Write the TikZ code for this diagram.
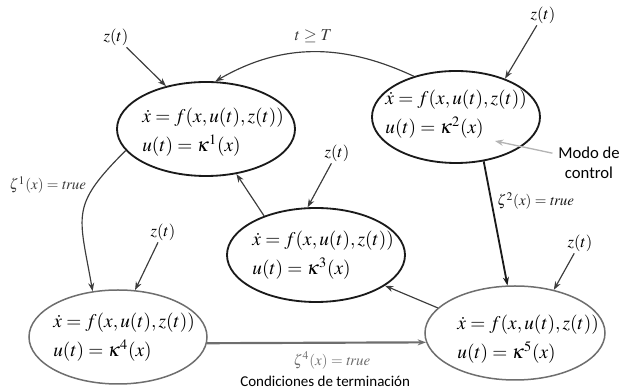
\documentclass[tikz,border=0pt]{standalone}
\usepackage{mathptmx}
\usepackage{fontspec}
\setsansfont{Carlito}
\usepackage{tikz}
\usetikzlibrary{positioning, arrows.meta, shapes.geometric}
\definecolor{modeInk}{HTML}{1A1A1A}
\definecolor{modeGray}{HTML}{6E6E6E}
\definecolor{modeLight}{HTML}{B4B4B4}
\definecolor{modeDark}{HTML}{3C3C3C}
\tikzset{
  modestate/.style={ellipse, draw=modeInk, line width=1.1pt, inner sep=0pt,
    minimum width=106.8pt, minimum height=56.4pt},
  softstate/.style={modestate, draw=modeGray, line width=0.9pt},
  eqs/.style={anchor=west, align=left, inner sep=0pt,
    font=\fontsize{11.6}{14}\selectfont},
  input/.style={inner sep=1pt},
  flow/.style={-{Stealth[length=5pt,width=3.6pt]}, modeDark, line width=0.7pt},
  guard/.style={font=\small, inner sep=1pt}
}
\newcommand{\dyneq}[1]{$\dot{x} = f(x, u(t), z(t))$\\[3.5pt]$u(t) = \kappa^{#1}(x)$}

\begin{document}
\begin{tikzpicture}[x=0.6pt, y=-0.6pt]
    \useasboundingbox (0,0) rectangle (619,392);
    % ---- control modes ----
    \node[modestate] (e1) at (206,129) {};
    \node[modestate, minimum width=100.8pt, minimum height=55.2pt] (e2) at (456,117) {};
    \node[modestate] (e3) at (316,255) {};
    \node[softstate] (e4) at (118,337) {};
    \node[softstate, minimum width=108pt] (e5) at (515,333) {};
    \node[eqs] (q1) at (142,132) {\dyneq{1}};
    \node[eqs] (q2) at (385,114) {\dyneq{2}};
    \node[eqs] (q3) at (252,255) {\dyneq{3}};
    \node[eqs] (q4) at (53,337) {\dyneq{4}};
    \node[eqs] (q5) at (457,339) {\dyneq{5}};
    % ---- disturbances ----
    \node[input] (z1) at (116,37) {$z(t)$};
    \node[input] (z2) at (543,15) {$z(t)$};
    \node[input] (z3) at (337,153) {$z(t)$};
    \node[input] (z4) at (163,232) {$z(t)$};
    \node[input] (z5) at (580,243) {$z(t)$};
    \draw[flow] (z1) -- (e1.133);
    \draw[flow] (z2) -- (e2.38);
    \draw[flow] (z3) -- (e3.100);
    \draw[flow] (z4) -- (e4.70);
    \draw[flow] (z5) -- (e5.48);
    % ---- switching ----
    \draw[flow] (e2.136) to[out=155, in=30]
      node[pos=0.5, above=4pt, inner sep=1pt] (tT) {$t \geq T$} (e1.79);
    \draw[flow] (e1.195) to[out=225, in=100, looseness=1.4]
      node[guard, pos=0.25, left=4pt] (g1) {$\zeta^{1}(x) = \mathit{true}$} (e4.119);
    \draw[flow, modeInk, line width=1.1pt] (e2.302) --
      node[guard, pos=0.32, right=2pt] (g2) {$\zeta^{2}(x) = \mathit{true}$} (e5.99);
    \draw[flow] (e5.162) -- (e3.-24);
    \draw[flow] (e3.143.5) -- (e1.-56);
    \draw[flow, modeGray, line width=1.3pt] (e4.-4) --
      node[guard, pos=0.57, below=4pt] (g4) {$\zeta^{4}(x) = \mathit{true}$} (e5.186);
    \node[font=\sffamily\small, below=-1pt of g4, xshift=-4pt] (cond)
      {Condiciones de terminación};
    % ---- mode label ----
    \node[font=\sffamily, align=center] (mc) at (589,163) {Modo de\\control};
    \coordinate (mctip) at (495,141);
    \draw[-{Stealth[length=5pt]}, modeLight, line width=0.8pt] (mc.165) -- (mctip);
\end{tikzpicture}
\end{document}
